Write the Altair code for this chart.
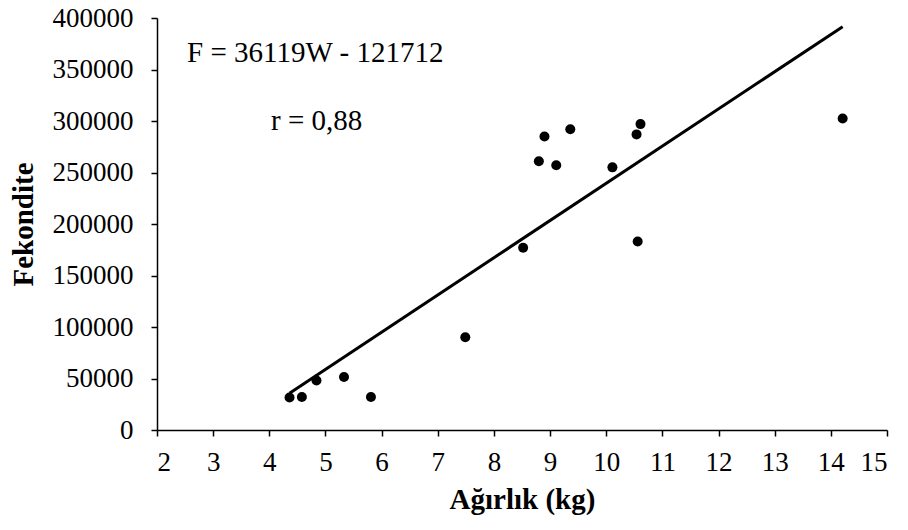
import altair as alt
import pandas as pd

# Data
weight = [4.36, 4.58, 4.84, 5.33, 5.81, 7.49, 8.52, 8.80, 8.90, 9.11, 9.36, 10.11, 10.54, 10.61, 10.56, 14.21]
fecundity = [31500, 32000, 48000, 51500, 32000, 90000, 177000, 261000, 285000, 257000, 292000, 255000, 287000, 297000, 183000, 302500]

slope = 36119
intercept = -121712
eq_text = "F = 36119W - 121712"
r_text = "r = 0,88"

x_ticks = list(range(2, 16))
y_ticks = list(range(0, 400001, 50000))

FONT = "Liberation Serif"

pts = pd.DataFrame({"w": weight, "f": fecundity})
x0, x1 = min(weight), max(weight)
fit = pd.DataFrame({"w": [x0, x1], "f": [slope * x0 + intercept, slope * x1 + intercept]})

xscale = alt.Scale(domain=[2, 15], nice=False, zero=False)
yscale = alt.Scale(domain=[0, 400000], nice=False)

xaxis = alt.Axis(values=x_ticks, title="Ağırlık (kg)", grid=False, tickSize=6,
                 labelPadding=13, titlePadding=10, format="d")
yaxis = alt.Axis(values=y_ticks, title="Fekondite", grid=False, tickSize=6,
                 labelPadding=18, titlePadding=14, format="d")

points = alt.Chart(pts).mark_circle(size=100, color="black", opacity=1).encode(
    x=alt.X("w:Q", scale=xscale, axis=xaxis),
    y=alt.Y("f:Q", scale=yscale, axis=yaxis),
)

line = alt.Chart(fit).mark_line(color="black", strokeWidth=3).encode(
    x=alt.X("w:Q", scale=xscale),
    y=alt.Y("f:Q", scale=yscale),
)

ann = pd.DataFrame({"t": [eq_text, r_text], "px": [30, 114], "py": [44, 112]})
texts = alt.Chart(ann).mark_text(font=FONT, fontSize=29, align="left", baseline="alphabetic",
                                 color="black").encode(
    x=alt.X("px:Q", scale=None),
    y=alt.Y("py:Q", scale=None),
    text="t:N",
)

chart = alt.layer(line, points, texts).properties(
    width=730, height=412,
    autosize=alt.AutoSizeParams(type="none"),
    padding={"left": 157, "top": 18, "right": 21, "bottom": 100},
).configure_view(stroke=None).configure_axis(
    labelFont=FONT, titleFont=FONT, labelFontSize=27, titleFontSize=29,
    labelColor="black", titleColor="black", domainColor="black", tickColor="black",
    domainWidth=1.5, tickWidth=1.5, titleFontWeight="bold",
)

chart.save("out.html", embed_options={"renderer": "svg", "actions": False})
